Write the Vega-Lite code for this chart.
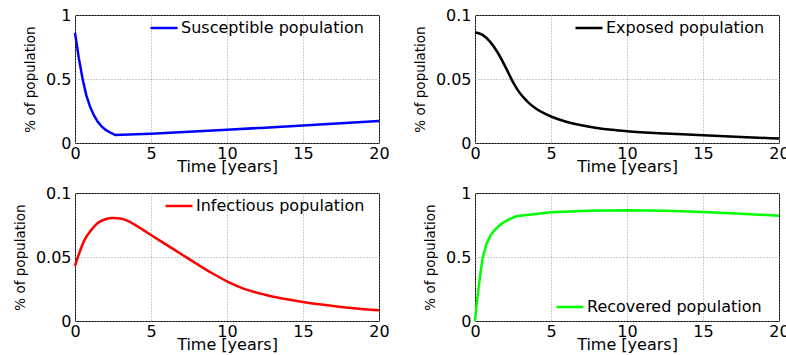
{
  "$schema": "https://vega.github.io/schema/vega-lite/v6.json",
  "padding": {"left": 12, "top": 6, "right": 0, "bottom": 0},
  "background": "white",
  "config": {
    "font": "DejaVu Sans",
    "view": {"stroke": "black", "strokeWidth": 1},
    "axis": {
      "domain": false, "ticks": false, "grid": true,
      "gridDash": [1, 2], "gridColor": "#999999", "gridWidth": 1,
      "labelFont": "DejaVu Sans", "labelFontSize": 16, "labelColor": "black",
      "titleFont": "DejaVu Sans", "titleFontSize": 16, "titleFontWeight": "normal", "titleColor": "black",
      "labelFlush": false
    },
    "axisX": {"labelPadding": 2, "titlePadding": -3},
    "axisY": {"labelPadding": 4, "titlePadding": 8, "titleFontSize": 13.5},
    "legend": {
      "title": null, "symbolType": "stroke", "symbolSize": 729, "symbolStrokeWidth": 2.5,
      "labelFont": "DejaVu Sans", "labelFontSize": 16, "labelColor": "black", "labelOffset": 2,
      "labelLimit": 400, "padding": 0, "orient": "none"
    }
  },
  "datasets": {
    "S": [
      {"series": "Susceptible population", "t": 0, "v": 0.86},
      {"series": "Susceptible population", "t": 0.25, "v": 0.665},
      {"series": "Susceptible population", "t": 0.5, "v": 0.5},
      {"series": "Susceptible population", "t": 0.75, "v": 0.37},
      {"series": "Susceptible population", "t": 1, "v": 0.28},
      {"series": "Susceptible population", "t": 1.25, "v": 0.215},
      {"series": "Susceptible population", "t": 1.5, "v": 0.165},
      {"series": "Susceptible population", "t": 1.75, "v": 0.13},
      {"series": "Susceptible population", "t": 2, "v": 0.104},
      {"series": "Susceptible population", "t": 2.25, "v": 0.086},
      {"series": "Susceptible population", "t": 2.5, "v": 0.071},
      {"series": "Susceptible population", "t": 2.65, "v": 0.062},
      {"series": "Susceptible population", "t": 5, "v": 0.072},
      {"series": "Susceptible population", "t": 7.5, "v": 0.088},
      {"series": "Susceptible population", "t": 10, "v": 0.104},
      {"series": "Susceptible population", "t": 12.5, "v": 0.12},
      {"series": "Susceptible population", "t": 15, "v": 0.137},
      {"series": "Susceptible population", "t": 17.5, "v": 0.154},
      {"series": "Susceptible population", "t": 20, "v": 0.172}
    ],
    "E": [
      {"series": "Exposed population", "t": 0, "v": 0.0866},
      {"series": "Exposed population", "t": 0.5, "v": 0.0845},
      {"series": "Exposed population", "t": 1, "v": 0.079},
      {"series": "Exposed population", "t": 1.5, "v": 0.0705},
      {"series": "Exposed population", "t": 2, "v": 0.0595},
      {"series": "Exposed population", "t": 2.25, "v": 0.0535},
      {"series": "Exposed population", "t": 2.5, "v": 0.0475},
      {"series": "Exposed population", "t": 2.75, "v": 0.0425},
      {"series": "Exposed population", "t": 3, "v": 0.0383},
      {"series": "Exposed population", "t": 3.25, "v": 0.0348},
      {"series": "Exposed population", "t": 3.5, "v": 0.0318},
      {"series": "Exposed population", "t": 3.75, "v": 0.0292},
      {"series": "Exposed population", "t": 4, "v": 0.027},
      {"series": "Exposed population", "t": 4.5, "v": 0.0235},
      {"series": "Exposed population", "t": 5, "v": 0.0207},
      {"series": "Exposed population", "t": 6, "v": 0.0166},
      {"series": "Exposed population", "t": 7, "v": 0.0138},
      {"series": "Exposed population", "t": 8, "v": 0.0118},
      {"series": "Exposed population", "t": 9, "v": 0.0103},
      {"series": "Exposed population", "t": 10, "v": 0.0092},
      {"series": "Exposed population", "t": 12.5, "v": 0.0074},
      {"series": "Exposed population", "t": 15, "v": 0.0061},
      {"series": "Exposed population", "t": 17.5, "v": 0.0047},
      {"series": "Exposed population", "t": 20, "v": 0.0035}
    ],
    "I": [
      {"series": "Infectious population", "t": 0, "v": 0.043},
      {"series": "Infectious population", "t": 0.25, "v": 0.052},
      {"series": "Infectious population", "t": 0.5, "v": 0.06},
      {"series": "Infectious population", "t": 0.75, "v": 0.066},
      {"series": "Infectious population", "t": 1, "v": 0.07},
      {"series": "Infectious population", "t": 1.5, "v": 0.0765},
      {"series": "Infectious population", "t": 2, "v": 0.0795},
      {"series": "Infectious population", "t": 2.5, "v": 0.0805},
      {"series": "Infectious population", "t": 3, "v": 0.08},
      {"series": "Infectious population", "t": 3.5, "v": 0.078},
      {"series": "Infectious population", "t": 4, "v": 0.0747},
      {"series": "Infectious population", "t": 4.5, "v": 0.071},
      {"series": "Infectious population", "t": 5, "v": 0.0672},
      {"series": "Infectious population", "t": 6, "v": 0.0597},
      {"series": "Infectious population", "t": 7, "v": 0.0522},
      {"series": "Infectious population", "t": 8, "v": 0.0447},
      {"series": "Infectious population", "t": 9, "v": 0.0375},
      {"series": "Infectious population", "t": 10, "v": 0.031},
      {"series": "Infectious population", "t": 11, "v": 0.0257},
      {"series": "Infectious population", "t": 12.5, "v": 0.0205},
      {"series": "Infectious population", "t": 15, "v": 0.0148},
      {"series": "Infectious population", "t": 17.5, "v": 0.011},
      {"series": "Infectious population", "t": 20, "v": 0.0083}
    ],
    "R": [
      {"series": "Recovered population", "t": 0, "v": 0},
      {"series": "Recovered population", "t": 0.1, "v": 0.12},
      {"series": "Recovered population", "t": 0.2, "v": 0.22},
      {"series": "Recovered population", "t": 0.3, "v": 0.32},
      {"series": "Recovered population", "t": 0.4, "v": 0.41},
      {"series": "Recovered population", "t": 0.5, "v": 0.49},
      {"series": "Recovered population", "t": 0.75, "v": 0.6},
      {"series": "Recovered population", "t": 1, "v": 0.665},
      {"series": "Recovered population", "t": 1.25, "v": 0.705},
      {"series": "Recovered population", "t": 1.5, "v": 0.735},
      {"series": "Recovered population", "t": 1.75, "v": 0.76},
      {"series": "Recovered population", "t": 2, "v": 0.778},
      {"series": "Recovered population", "t": 2.25, "v": 0.795},
      {"series": "Recovered population", "t": 2.5, "v": 0.808},
      {"series": "Recovered population", "t": 2.7, "v": 0.818},
      {"series": "Recovered population", "t": 5, "v": 0.85},
      {"series": "Recovered population", "t": 7.5, "v": 0.862},
      {"series": "Recovered population", "t": 10, "v": 0.866},
      {"series": "Recovered population", "t": 12.5, "v": 0.862},
      {"series": "Recovered population", "t": 15, "v": 0.852},
      {"series": "Recovered population", "t": 17.5, "v": 0.838},
      {"series": "Recovered population", "t": 20, "v": 0.822}
    ]
  },
  "columns": 2,
  "spacing": {"row": 50, "column": 96},
  "bounds": "flush",
  "resolve": {
    "scale": {"x": "independent", "y": "independent", "color": "independent"},
    "axis": {"x": "independent", "y": "independent"},
    "legend": {"color": "independent"}
  },
  "concat": [
    {
      "width": 304, "height": 128,
      "data": {"name": "S"},
      "mark": {"type": "line", "strokeWidth": 2.5},
      "encoding": {
        "x": {"field": "t", "type": "quantitative", "scale": {"domain": [0, 20], "nice": false}, "axis": {"values": [0, 5, 10, 15, 20], "title": "Time [years]"}},
        "y": {"field": "v", "type": "quantitative", "scale": {"domain": [0, 1], "nice": false}, "axis": {"values": [0, 0.5, 1], "format": "~g", "title": "% of population"}},
        "color": {"field": "series", "type": "nominal", "scale": {"range": ["#0000ff"]}, "legend": {"legendX": 74, "legendY": -2}}
      }
    },
    {
      "width": 304, "height": 128,
      "data": {"name": "E"},
      "mark": {"type": "line", "strokeWidth": 2.5, "interpolate": "monotone"},
      "encoding": {
        "x": {"field": "t", "type": "quantitative", "scale": {"domain": [0, 20], "nice": false}, "axis": {"values": [0, 5, 10, 15, 20], "title": "Time [years]"}},
        "y": {"field": "v", "type": "quantitative", "scale": {"domain": [0, 0.1], "nice": false}, "axis": {"values": [0, 0.05, 0.1], "format": "~g", "title": "% of population"}},
        "color": {"field": "series", "type": "nominal", "scale": {"range": ["#000000"]}, "legend": {"legendX": 99, "legendY": -2}}
      }
    },
    {
      "width": 304, "height": 128,
      "data": {"name": "I"},
      "mark": {"type": "line", "strokeWidth": 2.5, "interpolate": "monotone"},
      "encoding": {
        "x": {"field": "t", "type": "quantitative", "scale": {"domain": [0, 20], "nice": false}, "axis": {"values": [0, 5, 10, 15, 20], "title": "Time [years]"}},
        "y": {"field": "v", "type": "quantitative", "scale": {"domain": [0, 0.1], "nice": false}, "axis": {"values": [0, 0.05, 0.1], "format": "~g", "title": "% of population"}},
        "color": {"field": "series", "type": "nominal", "scale": {"range": ["#ff0000"]}, "legend": {"legendX": 89, "legendY": -2}}
      }
    },
    {
      "width": 304, "height": 128,
      "data": {"name": "R"},
      "mark": {"type": "line", "strokeWidth": 2.5},
      "encoding": {
        "x": {"field": "t", "type": "quantitative", "scale": {"domain": [0, 20], "nice": false}, "axis": {"values": [0, 5, 10, 15, 20], "title": "Time [years]"}},
        "y": {"field": "v", "type": "quantitative", "scale": {"domain": [0, 1], "nice": false}, "axis": {"values": [0, 0.5, 1], "format": "~g", "title": "% of population"}},
        "color": {"field": "series", "type": "nominal", "scale": {"range": ["#00ff00"]}, "legend": {"legendX": 80, "legendY": 99}}
      }
    }
  ]
}
